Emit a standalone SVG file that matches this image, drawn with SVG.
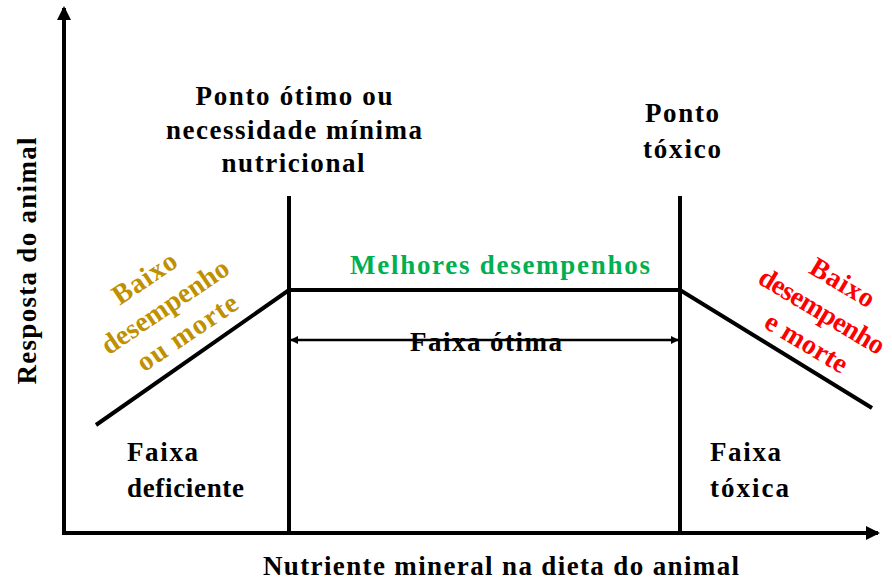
<svg xmlns="http://www.w3.org/2000/svg" width="892" height="583" viewBox="0 0 892 583">
<style>
text{font-family:"Liberation Serif","Times New Roman",serif;font-weight:bold;font-size:27px;fill:#000}
.c{text-anchor:middle}
.r{font-size:28px}
.ln{stroke:#000;stroke-width:4;fill:none}
.gold{fill:#bf9000}
.red{fill:#ff0000}
.green{fill:#00b050}
</style>
<defs>
<marker id="ah" markerWidth="8" markerHeight="8" refX="7" refY="4" orient="auto" markerUnits="userSpaceOnUse"><path d="M0,0 L8,4 L0,8 Z" fill="#000"/></marker>
<marker id="big" markerWidth="14" markerHeight="14" refX="12" refY="7" orient="auto" markerUnits="userSpaceOnUse"><path d="M0,0 L14,7 L0,14 Z" fill="#000"/></marker>
</defs>
<g id="connectors">
<line class="ln" x1="64" y1="535" x2="64" y2="8" marker-end="url(#big)"/>
<line class="ln" x1="62" y1="533" x2="878" y2="533" marker-end="url(#big)"/>
<line class="ln" x1="289" y1="196" x2="289" y2="535"/>
<line class="ln" x1="680" y1="196" x2="680" y2="535"/>
<polyline class="ln" points="96,425 289,290 680,290 872,408"/>
<line stroke="#000" stroke-width="2.5" x1="480" y1="340" x2="678" y2="340" marker-end="url(#ah)"/>
<line stroke="#000" stroke-width="2.5" x1="480" y1="340" x2="291" y2="340" marker-end="url(#ah)"/>
</g>
<g id="axis-y-label"><text class="c" transform="translate(36,261) rotate(-90)" textLength="247" lengthAdjust="spacing">Resposta do animal</text></g>
<g id="axis-x-label"><text class="c" x="501" y="575" textLength="476" lengthAdjust="spacing">Nutriente mineral na dieta do animal</text></g>
<g id="optimal-point"><text class="c" x="294" y="105" textLength="197" lengthAdjust="spacing">Ponto ótimo ou</text><text class="c" x="294" y="139" textLength="256" lengthAdjust="spacing">necessidade mínima</text><text class="c" x="293" y="172" textLength="143" lengthAdjust="spacing">nutricional</text></g>
<g id="toxic-point"><text class="c" x="682" y="122" textLength="74" lengthAdjust="spacing">Ponto</text><text class="c" x="682" y="158" textLength="78" lengthAdjust="spacing">tóxico</text></g>
<g id="best"><text class="c green" x="500" y="274" textLength="300" lengthAdjust="spacing">Melhores desempenhos</text></g>
<g id="optimal-range"><text class="c" x="486" y="351" textLength="152" lengthAdjust="spacing">Faixa ótima</text></g>
<g id="deficient-range"><text x="127" y="461" textLength="71" lengthAdjust="spacing">Faixa</text><text x="127" y="497" textLength="117" lengthAdjust="spacing">deficiente</text></g>
<g id="toxic-range"><text x="710" y="461" textLength="71" lengthAdjust="spacing">Faixa</text><text x="710" y="497" textLength="79" lengthAdjust="spacing">tóxica</text></g>
<g id="low-left" transform="translate(5,0) rotate(-34 165 314)"><text class="c r gold" x="164" y="279" textLength="72" lengthAdjust="spacing">Baixo</text><text class="c r gold" x="165" y="314" textLength="148" lengthAdjust="spacing">desempenho</text><text class="c r gold" x="169" y="348" textLength="116" lengthAdjust="spacing">ou morte</text></g>
<g id="low-right" transform="rotate(31 819 320)"><text class="c r red" x="820" y="285" textLength="71" lengthAdjust="spacing">Baixo</text><text class="c r red" x="817" y="320" textLength="142" lengthAdjust="spacing">desempenho</text><text class="c r red" x="820" y="355" textLength="92" lengthAdjust="spacing">e morte</text></g>
</svg>
